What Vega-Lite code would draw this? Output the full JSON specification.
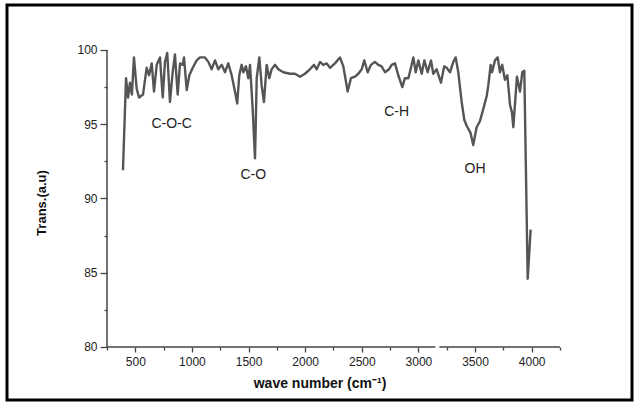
{
  "$schema": "https://vega.github.io/schema/vega-lite/v6.json",
  "width": 625,
  "height": 395,
  "autosize": {"type": "none"},
  "padding": {"left": 7, "top": 5, "right": 7, "bottom": 7},
  "background": "white",
  "config": {
    "view": {"stroke": "#000000", "strokeWidth": 3},
    "font": "Liberation Sans",
    "axis": {"grid": false, "labelFont": "Liberation Sans", "titleFont": "Liberation Sans"}
  },
  "datasets": {
    "spectrum": [
      {"wavenumber": 391, "trans": 91.9}, {"wavenumber": 418, "trans": 98.1}, {"wavenumber": 436, "trans": 96.8},
      {"wavenumber": 453, "trans": 97.8}, {"wavenumber": 470, "trans": 97.0}, {"wavenumber": 488, "trans": 99.5},
      {"wavenumber": 512, "trans": 97.4}, {"wavenumber": 533, "trans": 96.8}, {"wavenumber": 568, "trans": 97.0},
      {"wavenumber": 600, "trans": 98.8}, {"wavenumber": 621, "trans": 98.3}, {"wavenumber": 645, "trans": 99.1},
      {"wavenumber": 665, "trans": 97.2}, {"wavenumber": 689, "trans": 99.0}, {"wavenumber": 718, "trans": 99.5},
      {"wavenumber": 742, "trans": 96.8}, {"wavenumber": 762, "trans": 99.2}, {"wavenumber": 782, "trans": 99.8},
      {"wavenumber": 806, "trans": 96.5}, {"wavenumber": 830, "trans": 98.5}, {"wavenumber": 850, "trans": 99.7},
      {"wavenumber": 874, "trans": 97.0}, {"wavenumber": 895, "trans": 99.1}, {"wavenumber": 918, "trans": 99.0},
      {"wavenumber": 930, "trans": 99.5}, {"wavenumber": 954, "trans": 97.3}, {"wavenumber": 977, "trans": 98.3},
      {"wavenumber": 1007, "trans": 98.8}, {"wavenumber": 1042, "trans": 99.3}, {"wavenumber": 1071, "trans": 99.5},
      {"wavenumber": 1115, "trans": 99.5}, {"wavenumber": 1145, "trans": 99.2}, {"wavenumber": 1174, "trans": 98.7},
      {"wavenumber": 1204, "trans": 99.3}, {"wavenumber": 1233, "trans": 98.7}, {"wavenumber": 1263, "trans": 99.0},
      {"wavenumber": 1292, "trans": 98.5}, {"wavenumber": 1321, "trans": 99.1}, {"wavenumber": 1351, "trans": 98.3},
      {"wavenumber": 1380, "trans": 97.2}, {"wavenumber": 1400, "trans": 96.4}, {"wavenumber": 1418, "trans": 98.3},
      {"wavenumber": 1439, "trans": 99.0}, {"wavenumber": 1454, "trans": 98.5}, {"wavenumber": 1477, "trans": 98.9},
      {"wavenumber": 1498, "trans": 98.1}, {"wavenumber": 1513, "trans": 99.0}, {"wavenumber": 1536, "trans": 96.1},
      {"wavenumber": 1550, "trans": 93.8}, {"wavenumber": 1557, "trans": 92.7}, {"wavenumber": 1565, "trans": 95.5},
      {"wavenumber": 1572, "trans": 98.1}, {"wavenumber": 1595, "trans": 99.5}, {"wavenumber": 1616, "trans": 97.6},
      {"wavenumber": 1636, "trans": 96.5}, {"wavenumber": 1660, "trans": 99.0}, {"wavenumber": 1683, "trans": 98.1},
      {"wavenumber": 1704, "trans": 98.7}, {"wavenumber": 1733, "trans": 99.0}, {"wavenumber": 1763, "trans": 98.7},
      {"wavenumber": 1807, "trans": 98.5}, {"wavenumber": 1866, "trans": 98.4}, {"wavenumber": 1910, "trans": 98.4},
      {"wavenumber": 1954, "trans": 98.2}, {"wavenumber": 1998, "trans": 98.4}, {"wavenumber": 2042, "trans": 98.7},
      {"wavenumber": 2078, "trans": 99.0}, {"wavenumber": 2102, "trans": 98.7}, {"wavenumber": 2131, "trans": 99.2},
      {"wavenumber": 2160, "trans": 99.0}, {"wavenumber": 2190, "trans": 99.1}, {"wavenumber": 2219, "trans": 98.8},
      {"wavenumber": 2263, "trans": 99.1}, {"wavenumber": 2307, "trans": 99.5}, {"wavenumber": 2337, "trans": 98.9},
      {"wavenumber": 2375, "trans": 97.2}, {"wavenumber": 2404, "trans": 98.1}, {"wavenumber": 2440, "trans": 98.2},
      {"wavenumber": 2469, "trans": 98.4}, {"wavenumber": 2499, "trans": 98.7}, {"wavenumber": 2522, "trans": 99.3},
      {"wavenumber": 2552, "trans": 98.5}, {"wavenumber": 2581, "trans": 99.0}, {"wavenumber": 2616, "trans": 99.2},
      {"wavenumber": 2646, "trans": 99.0}, {"wavenumber": 2675, "trans": 98.9}, {"wavenumber": 2705, "trans": 98.5},
      {"wavenumber": 2740, "trans": 98.7}, {"wavenumber": 2764, "trans": 99.0}, {"wavenumber": 2793, "trans": 99.1},
      {"wavenumber": 2822, "trans": 98.3}, {"wavenumber": 2858, "trans": 97.5}, {"wavenumber": 2881, "trans": 98.1},
      {"wavenumber": 2911, "trans": 98.1}, {"wavenumber": 2934, "trans": 98.8}, {"wavenumber": 2955, "trans": 99.5},
      {"wavenumber": 2976, "trans": 98.5}, {"wavenumber": 2999, "trans": 99.3}, {"wavenumber": 3029, "trans": 98.4},
      {"wavenumber": 3052, "trans": 99.3}, {"wavenumber": 3082, "trans": 98.5}, {"wavenumber": 3111, "trans": 99.3},
      {"wavenumber": 3131, "trans": 98.4}, {"wavenumber": 3161, "trans": 98.7}, {"wavenumber": 3199, "trans": 97.8},
      {"wavenumber": 3228, "trans": 98.9}, {"wavenumber": 3249, "trans": 98.8}, {"wavenumber": 3279, "trans": 98.5},
      {"wavenumber": 3308, "trans": 99.2}, {"wavenumber": 3329, "trans": 99.5}, {"wavenumber": 3352, "trans": 98.5},
      {"wavenumber": 3382, "trans": 96.5}, {"wavenumber": 3405, "trans": 95.3}, {"wavenumber": 3426, "trans": 94.9},
      {"wavenumber": 3461, "trans": 94.4}, {"wavenumber": 3484, "trans": 93.6}, {"wavenumber": 3514, "trans": 94.8},
      {"wavenumber": 3543, "trans": 95.2}, {"wavenumber": 3572, "trans": 96.0}, {"wavenumber": 3603, "trans": 96.9},
      {"wavenumber": 3617, "trans": 97.6}, {"wavenumber": 3638, "trans": 99.0}, {"wavenumber": 3650, "trans": 98.5},
      {"wavenumber": 3676, "trans": 99.3}, {"wavenumber": 3700, "trans": 99.5}, {"wavenumber": 3720, "trans": 98.5},
      {"wavenumber": 3740, "trans": 99.0}, {"wavenumber": 3764, "trans": 98.0}, {"wavenumber": 3785, "trans": 98.3},
      {"wavenumber": 3809, "trans": 96.3}, {"wavenumber": 3826, "trans": 95.8}, {"wavenumber": 3838, "trans": 94.8},
      {"wavenumber": 3870, "trans": 98.2}, {"wavenumber": 3897, "trans": 97.2}, {"wavenumber": 3917, "trans": 98.5},
      {"wavenumber": 3935, "trans": 98.6}, {"wavenumber": 3965, "trans": 84.6}, {"wavenumber": 3991, "trans": 87.9}
    ],
    "axislines": [
      {"wavenumber": 250, "wavenumber2": 250, "trans": 80, "trans2": 100},
      {"wavenumber": 250, "wavenumber2": 3150, "trans": 80, "trans2": 80},
      {"wavenumber": 3185, "wavenumber2": 4250, "trans": 80, "trans2": 80}
    ],
    "annotations": [
      {"wavenumber": 821, "trans": 95.0, "label": "C-O-C"},
      {"wavenumber": 1542, "trans": 91.6, "label": "C-O"},
      {"wavenumber": 2808, "trans": 95.8, "label": "C-H"},
      {"wavenumber": 3500, "trans": 92.0, "label": "OH"}
    ]
  },
  "encoding": {
    "x": {
      "field": "wavenumber",
      "type": "quantitative",
      "scale": {"domain": [-633, 4886], "nice": false, "zero": false},
      "axis": {
        "orient": "bottom",
        "offset": -53,
        "domain": false,
        "format": "d",
        "values": [250, 500, 750, 1000, 1250, 1500, 1750, 2000, 2250, 2500, 2750, 3000, 3250, 3500, 3750, 4000, 4250],
        "labelExpr": "datum.value % 500 === 0 ? datum.label : ''",
        "tickSize": {"condition": {"test": "datum.value % 500 === 0", "value": 5}, "value": 3},
        "tickColor": "#444",
        "tickWidth": 1.3,
        "labelFontSize": 12,
        "labelColor": "#222",
        "labelPadding": 4,
        "labelFlush": false,
        "labelOverlap": false,
        "title": "wave number (cm⁻¹)",
        "titleFontSize": 14,
        "titleFontWeight": "bold",
        "titleColor": "#111",
        "titlePadding": 9
      }
    },
    "y": {
      "field": "trans",
      "type": "quantitative",
      "scale": {"domain": [76.43, 103.03], "nice": false, "zero": false},
      "axis": {
        "orient": "left",
        "offset": -100,
        "domain": false,
        "format": "d",
        "values": [80, 82.5, 85, 87.5, 90, 92.5, 95, 97.5, 100],
        "labelExpr": "datum.value % 5 === 0 ? datum.label : ''",
        "tickSize": {"condition": {"test": "datum.value % 5 === 0", "value": 7}, "value": 3},
        "tickColor": "#444",
        "tickWidth": 1.3,
        "labelFontSize": 12,
        "labelColor": "#222",
        "labelPadding": 3,
        "labelFlush": false,
        "labelOverlap": false,
        "title": "Trans.(a.u)",
        "titleFontSize": 13,
        "titleFontWeight": "bold",
        "titleColor": "#111",
        "titlePadding": 28
      }
    }
  },
  "layer": [
    {
      "data": {"name": "axislines"},
      "mark": {"type": "rule", "color": "#444", "strokeWidth": 1.5},
      "encoding": {
        "x2": {"field": "wavenumber2"},
        "y2": {"field": "trans2"}
      }
    },
    {
      "data": {"name": "spectrum"},
      "mark": {"type": "line", "color": "#555555", "strokeWidth": 2.4, "strokeJoin": "round"},
      "encoding": {}
    },
    {
      "data": {"name": "annotations"},
      "mark": {"type": "text", "fontSize": 14, "color": "#222", "align": "center", "baseline": "middle", "font": "Liberation Sans"},
      "encoding": {"text": {"field": "label"}}
    }
  ]
}
